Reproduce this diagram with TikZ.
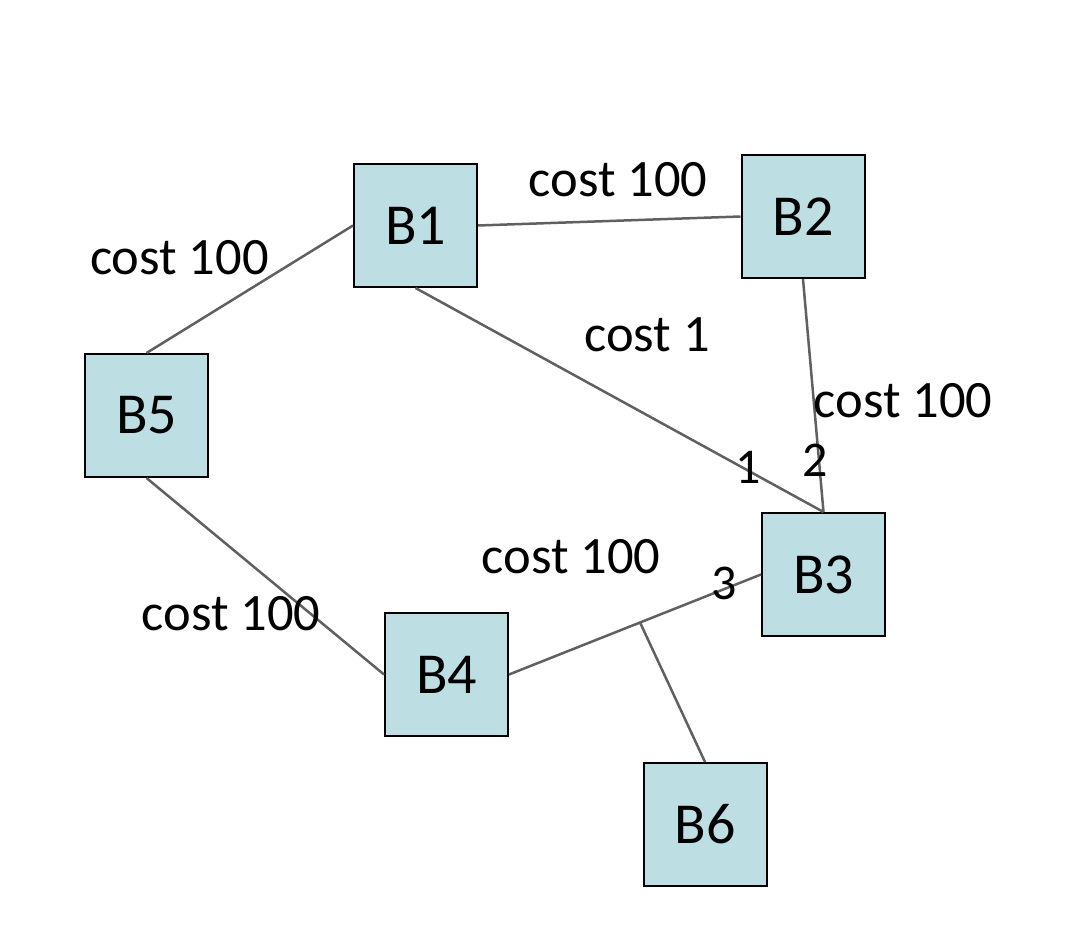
\documentclass[tikz,border=0pt]{standalone}
\usepackage{fontspec}
\setmainfont{Carlito}
\usetikzlibrary{calc,positioning}
\definecolor{boxfill}{RGB}{189,223,227}
\definecolor{linkgray}{RGB}{96,96,96}

\begin{document}
\begin{tikzpicture}[x=1pt,y=-1pt,
bridge/.style = {rectangle, draw=black, line width=2pt, fill=boxfill,
                 minimum size=123pt, inner sep=0pt, font=\fontsize{58}{62}\selectfont},
cost/.style = {inner sep=0pt, font=\fontsize{52.5}{56}\selectfont},
port/.style = {inner sep=0pt, font=\fontsize{50}{54}\selectfont},
link/.style ={draw=linkgray, line width=2.5pt}]

\useasboundingbox (0,0) rectangle (1072,934);

% bridges
\node [bridge] (b1) at (415.5,225.5) {B1};
\node [bridge] (b2) at (803,216.5) {B2};
\node [bridge] (b3) at (823.5,574.5) {B3};
\node [bridge] (b4) at (446.5,674.5) {B4};
\node [bridge] (b5) at (146.5,415.5) {B5};
\node [bridge] (b6) at (705,824.5) {B6};

% links
\begin{scope}[every path/.style=link]
\path (b1.west) -- (b5.north);
\path (b1.east) -- (b2.west);
\path (b1.south) -- (b3.north);
\path (b2.south) -- (b3.north);
\path (b5.south) -- (b4.west);
\path (b4.east) -- coordinate[pos=0.52] (tap) (b3.west);
\path (b6.north) -- (tap);
\end{scope}

% costs
\node [cost] (c12) at (618,180) {cost 100};
\node [cost] (c15) at (179.5,258) {cost 100};
\node [cost] (c13) at (647,335) {cost 1};
\node [cost] (c23) at (903,401) {cost 100};
\node [cost] (c34) at (571,557) {cost 100};
\node [cost] (c45) at (231,614) {cost 100};

% ports of B3
\node [port] (p1) at (748,467) {1};
\node [port] (p2) at (815,460) {2};
\node [port] (p3) at (724,583) {3};
\end{tikzpicture}
\end{document}
